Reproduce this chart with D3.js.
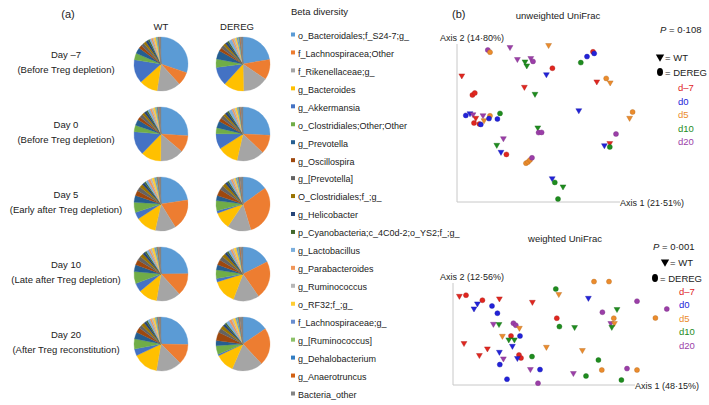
<!DOCTYPE html>
<html>
<head>
<meta charset="utf-8">
<script src="https://cdn.jsdelivr.net/npm/d3@7"></script>
<style>
  body { margin: 0; background: #fff; }
  svg { font-family: "Liberation Sans", Arial, sans-serif; }
</style>
</head>
<body>
<svg id="fig" width="709" height="405"></svg>
<script>
// ---------------------------------------------------------------------------
// (a) taxa composition pies, (b) PCoA of UniFrac distances
// ---------------------------------------------------------------------------

// 1) Data
const taxa = [
  "o_Bacteroidales;f_S24-7;g_", "f_Lachnospiracea;Other", "f_Rikenellaceae;g_",
  "g_Bacteroides", "g_Akkermansia", "o_Clostridiales;Other;Other", "g_Prevotella",
  "g_Oscillospira", "g_[Prevotella]", "O_Clostridiales;f_;g_", "g_Helicobacter",
  "p_Cyanobacteria;c_4C0d-2;o_YS2;f_;g_", "g_Lactobacillus", "g_Parabacteroides",
  "g_Ruminococcus", "o_RF32;f_;g_", "f_Lachnospiraceae;g_", "g_[Ruminococcus]",
  "g_Dehalobacterium", "g_Anaerotruncus", "Bacteria_other"
];
const taxaColors = [
  "#5b9bd5", "#ed7d31", "#a5a5a5", "#ffc000", "#4472c4", "#70ad47", "#255e91",
  "#9e480e", "#636363", "#997300", "#264478", "#43682b", "#7cafdd", "#f1975a",
  "#b7b7b7", "#ffcd33", "#698ed0", "#8cc168", "#327dc2", "#d26012", "#848484"
];

const dayLabels = ["Day \u20137", "Day 0", "Day 5", "Day 10", "Day 20"];
const dayNotes = [
  "(Before Treg depletion)", "(Before Treg depletion)", "(Early after Treg depletion)",
  "(Late after Treg depletion)", "(After Treg reconstitution)"
];
const genotypes = ["WT", "DEREG"];

// relative abundance (%) per taxon, same order as taxa
const wtShares = [
  [30, 8, 14, 11, 14, 4, 3.5, 2, 2, 1.5, 1.5, 1, 1, 1, 0.8, 1.2, 0.5, 0.5, 0.5, 0.4, 1],
  [26, 10, 14, 12, 14, 4, 3.5, 2, 2, 1.5, 1.5, 1, 1.5, 1, 1, 1.2, 0.5, 0.5, 0.5, 0.4, 1.5],
  [22, 18, 12, 12, 4, 6, 4, 3, 2.5, 2, 1.5, 1, 1.5, 1.5, 1, 1.5, 0.8, 0.5, 0.5, 0.5, 1.5],
  [24, 13, 14, 11, 5, 7, 4, 3, 2.5, 2, 1.5, 1, 1.5, 1, 1, 1.5, 0.8, 0.5, 0.5, 0.5, 1.5],
  [25, 12, 15, 15, 4, 6, 4, 3, 2, 2, 1.5, 1, 1.5, 1, 1, 1.2, 0.5, 0.5, 0.5, 0.4, 1.5]
];
const deregShares = [
  [22, 12, 15, 12, 11, 5, 5, 2, 2, 1.5, 1.5, 1, 2, 1, 1, 1, 0.8, 0.5, 0.5, 0.4, 1.5],
  [25, 11, 16, 12, 9, 3.5, 4, 2, 2, 1.5, 1.5, 1, 2, 1, 1, 1.2, 0.5, 0.5, 0.5, 0.4, 1.5],
  [15, 30, 14, 10, 1.5, 6, 3, 4, 2.5, 2, 1.5, 1, 1.5, 1, 1, 1, 0.8, 0.5, 0.5, 0.5, 2],
  [17, 22, 15, 14, 2, 5, 3, 3, 2.5, 2, 1.5, 1, 1.5, 1, 1, 1.5, 0.8, 0.5, 0.5, 0.5, 1.5],
  [15, 22, 18, 11, 1, 5, 3, 5, 2.5, 2, 1.5, 1, 2, 1.5, 1, 1.5, 0.8, 0.5, 0.5, 0.5, 2]
];

const timeGroups = ["d\u20137", "d0", "d5", "d10", "d20"];
const groupColors = ["#e0261f", "#2222d8", "#eb8b2c", "#1e8c1e", "#9b3ea8"];

// PCoA scores (axis units): [time group, genotype, axis 1, axis 2]
const unweightedPts = [
  [0,"WT",2.4,63.2],[4,"DEREG",15.4,76],[2,"DEREG",16.5,74.9],[4,"WT",26.5,77.4],
  [4,"WT",30.2,71.4],[3,"WT",34,70.2],[3,"WT",34.9,68.2],[4,"WT",36.9,71.9],
  [4,"DEREG",38,70.3],[2,"WT",45.8,78.4],[0,"DEREG",47.7,66.9],[1,"WT",44.7,63.8],
  [0,"WT",33.7,57.5],[3,"WT",39,54],[0,"DEREG",7.7,53.5],[0,"DEREG",8.9,54.5],
  [1,"DEREG",4.4,43.3],[1,"WT",6.5,44.3],[4,"WT",8,43.8],[0,"WT",9.4,42],
  [0,"DEREG",8.5,39.5],[0,"DEREG",11.2,39],[1,"DEREG",11.9,38.8],[4,"WT",13,43.3],
  [2,"WT",13.5,40.8],[2,"DEREG",16.5,43.1],[1,"DEREG",16,41.7],[1,"DEREG",20.2,41.5],
  [3,"DEREG",21.5,44.3],[4,"WT",23.2,31.8],[3,"WT",19.9,28.5],[1,"WT",22,25],
  [0,"DEREG",24.7,23.8],[3,"WT",40.4,37.2],[4,"DEREG",40.8,34.7],[4,"DEREG",42.3,34.8],
  [2,"DEREG",34.5,19.4],[2,"DEREG",35.5,20],[2,"DEREG",36.5,21],[4,"DEREG",37.5,22.1],
  [1,"WT",47.6,11.8],[3,"DEREG",48.9,9.8],[3,"WT",53,7.7],[3,"DEREG",50.5,1.5],
  [1,"WT",60.9,45.8],[3,"DEREG",61.9,69.7],[1,"DEREG",65,72.7],[0,"DEREG",68,75.1],
  [1,"DEREG",68.6,74.3],[0,"WT",69.9,60.2],[2,"DEREG",74.6,61.8],[2,"WT",76.6,59.7],
  [2,"DEREG",87.8,45],[2,"WT",86.3,42],[4,"DEREG",79.5,34],[1,"WT",73.7,28.3],
  [0,"WT",76.4,29.4],[3,"DEREG",76.4,27.5]
];
const weightedPts = [
  [0,"WT",3.2,44.5],[0,"DEREG",6.5,44.9],[0,"DEREG",14.7,42.4],[1,"WT",12.2,40.7],
  [1,"WT",10.5,38.2],[0,"WT",23.2,43.2],[1,"DEREG",19.5,39.5],[1,"DEREG",22.2,35.9],
  [0,"WT",39.7,41.5],[3,"DEREG",51.4,48],[2,"WT",52.9,45.4],[0,"DEREG",51.9,33.4],
  [3,"DEREG",53.2,29.2],[3,"WT",60.8,28.9],[4,"WT",20.2,30.5],[3,"WT",23,30.4],
  [4,"DEREG",30.2,30.9],[4,"DEREG",31.4,29.9],[2,"WT",33.2,28.5],[2,"WT",24.7,24.5],
  [0,"DEREG",29,24.5],[3,"WT",27.9,22.7],[3,"WT",30.7,22.7],[1,"DEREG",33.5,24.5],
  [1,"WT",29.7,19.5],[0,"WT",5.5,20.9],[0,"WT",17.2,18.2],[0,"WT",13.2,14.9],
  [1,"WT",23.2,16.5],[4,"WT",25.2,13.2],[1,"DEREG",23.4,10.2],[0,"DEREG",33,15],
  [0,"DEREG",34,13.5],[1,"WT",32.2,13.4],[2,"WT",46.7,19],[3,"DEREG",39.5,14.2],
  [4,"WT",38.7,7.9],[1,"DEREG",43.5,7.7],[1,"DEREG",27,2.9],[4,"DEREG",42.5,0.9],
  [4,"WT",60.2,5.9],[2,"DEREG",70.5,51.7],[2,"DEREG",78,51.7],[1,"WT",67.7,43.5],
  [4,"DEREG",92,41.9],[4,"DEREG",106.9,38],[3,"WT",82,37.9],[4,"DEREG",74.7,36.4],
  [2,"DEREG",80.4,33.4],[2,"DEREG",101.2,33.5],[4,"WT",78.9,30.9],[2,"WT",80.7,30.9],
  [3,"WT",79.4,29],[2,"WT",64.7,17.4],[3,"DEREG",72.7,12.5],[2,"DEREG",74.4,7.5],
  [4,"DEREG",87,8.2],[2,"DEREG",92,7.5],[3,"DEREG",66.5,4.5],[3,"DEREG",84.2,2.5]
];

const svg = d3.select("#fig");
const textCol = "#222";

// 2) Panel (a): pies
svg.append("text").attr("x", 68).attr("y", 18).attr("text-anchor", "middle")
  .attr("font-size", 11).attr("fill", textCol).text("(a)");

const colX = d3.scalePoint().domain(genotypes).range([161, 243]);
const rowY = d3.scaleLinear().domain([0, dayLabels.length - 1]).range([64, 344]);
const radius = 27;

genotypes.forEach(g => {
  svg.append("text").attr("x", g === "WT" ? colX(g) : colX(g) - 6).attr("y", 30)
    .attr("text-anchor", "middle").attr("font-size", 9.5).attr("fill", textCol).text(g);
});

const pie = d3.pie().sort(null).value(d => d);
const arc = d3.arc().innerRadius(0).outerRadius(radius);

dayLabels.forEach((lab, i) => {
  const lbl = svg.append("text").attr("text-anchor", "middle")
    .attr("font-size", 9.5).attr("fill", textCol);
  lbl.append("tspan").attr("x", 66).attr("y", rowY(i) - 6).text(lab);
  lbl.append("tspan").attr("x", 66).attr("y", rowY(i) + 9).text(dayNotes[i]);

  [wtShares[i], deregShares[i]].forEach((shares, j) => {
    const gPie = svg.append("g")
      .attr("transform", `translate(${colX(genotypes[j])},${rowY(i)})`);
    gPie.selectAll("path").data(pie(shares)).join("path")
      .attr("d", arc)
      .attr("fill", (d, k) => taxaColors[k])
      .attr("stroke", (d, k) => taxaColors[k]).attr("stroke-width", 0.3);
  });
});

// legend of taxa
svg.append("text").attr("x", 291).attr("y", 15).attr("font-size", 9.5)
  .attr("fill", textCol).text("Beta diversity");
const legY = d3.scaleLinear().domain([0, taxa.length - 1]).range([36, 395]);
const leg = svg.append("g").selectAll("g").data(taxa).join("g")
  .attr("transform", (d, i) => `translate(291,${legY(i)})`);
leg.append("rect").attr("x", 0).attr("y", -3.5).attr("width", 4).attr("height", 4)
  .attr("fill", (d, i) => taxaColors[i]);
leg.append("text").attr("x", 7).attr("y", 0.5).attr("dominant-baseline", "middle")
  .attr("font-size", 9).attr("fill", textCol).text(d => d);

// 3) Panel (b): PCoA scatter plots
svg.append("text").attr("x", 452).attr("y", 18).attr("font-size", 11)
  .attr("fill", textCol).text("(b)");

const triangle = d3.symbol().type(d3.symbolTriangle).size(15);
const dot = d3.symbol().type(d3.symbolCircle).size(20);

function drawPcoa(cfg) {
  const x = d3.scaleLinear().domain([0, 100]).range(cfg.xRange);
  const y = d3.scaleLinear().domain(cfg.yDomain).range(cfg.yRange);
  const g = svg.append("g");

  g.append("text").attr("x", cfg.titleX).attr("y", cfg.titleY).attr("text-anchor", "middle")
    .attr("font-size", 9.5).attr("fill", textCol).text(cfg.title);

  // axis lines
  g.append("line").attr("x1", x(0)).attr("x2", x(0)).attr("y1", y(0)).attr("y2", y(cfg.yAxisTop))
    .attr("stroke", "#c8c8c8");
  g.append("line").attr("x1", x(0)).attr("x2", x(cfg.xAxisEnd)).attr("y1", y(0)).attr("y2", y(0))
    .attr("stroke", "#c8c8c8");
  g.append("text").attr("x", x(cfg.xAxisEnd)).attr("y", y(0) + 3.5).attr("font-size", 9)
    .attr("fill", textCol).text(cfg.xLabel);
  g.append("text").attr("x", 440).attr("y", y(cfg.yAxisTop) - 3).attr("font-size", 9)
    .attr("fill", textCol).text(cfg.yLabel);

  // points
  g.selectAll(".pt").data(cfg.points).join("path")
    .attr("class", "pt")
    .attr("transform", d => `translate(${x(d[2])},${y(d[3])})` + (d[1] === "WT" ? " rotate(180)" : ""))
    .attr("d", d => d[1] === "WT" ? triangle() : dot())
    .attr("fill", d => groupColors[d[0]])
    .attr("stroke", d => d3.color(groupColors[d[0]]).darker(0.7))
    .attr("stroke-width", 0.4);

  // P value
  const p = g.append("text").attr("x", cfg.pX).attr("y", cfg.pY).attr("font-size", 9.5)
    .attr("fill", textCol);
  p.append("tspan").attr("font-style", "italic").text("P");
  p.append("tspan").text(" = " + cfg.pValue);

  // shape legend
  g.append("path").attr("transform", `translate(${cfg.triX},${cfg.legY[0]}) rotate(180)`)
    .attr("d", d3.symbol().type(d3.symbolTriangle).size(30)()).attr("fill", "#000");
  g.append("text").attr("x", cfg.triX + 5).attr("y", cfg.legY[0] + 3.5).attr("font-size", 9.5)
    .attr("fill", textCol).text("= WT");
  g.append("ellipse").attr("cx", cfg.dotX).attr("cy", cfg.legY[1]).attr("rx", 3).attr("ry", 4)
    .attr("fill", "#000");
  g.append("text").attr("x", cfg.dotX + 5).attr("y", cfg.legY[1] + 3.5).attr("font-size", 9.5)
    .attr("fill", textCol).text("= DEREG");

  // time group legend
  g.selectAll(".grp").data(timeGroups).join("text")
    .attr("class", "grp")
    .attr("x", cfg.grpX)
    .attr("y", (d, i) => cfg.grpY + i * cfg.grpStep)
    .attr("font-size", 9.5)
    .attr("fill", (d, i) => groupColors[i])
    .text(d => d);
}

drawPcoa({
  title: "unweighted UniFrac", titleX: 558, titleY: 19,
  xRange: [457, 657], yDomain: [0, 81], yRange: [202, 40],
  xAxisEnd: 81.5, yAxisTop: 79,
  xLabel: "Axis 1 (21\u00b751%)", yLabel: "Axis 2 (14\u00b780%)",
  points: unweightedPts,
  pValue: "0\u00b7108", pX: 660, pY: 33,
  triX: 660, dotX: 660, legY: [57, 72],
  grpX: 678, grpY: 91, grpStep: 13.5
});

drawPcoa({
  title: "weighted UniFrac", titleX: 565, titleY: 242,
  xRange: [453, 653], yDomain: [0, 52], yRange: [385, 281],
  xAxisEnd: 91, yAxisTop: 51,
  xLabel: "Axis 1 (48\u00b715%)", yLabel: "Axis 2 (12\u00b756%)",
  points: weightedPts,
  pValue: "0\u00b7001", pX: 653, pY: 250,
  triX: 665, dotX: 655, legY: [262, 278],
  grpX: 679, grpY: 295, grpStep: 13.4
});
</script>
</body>
</html>
